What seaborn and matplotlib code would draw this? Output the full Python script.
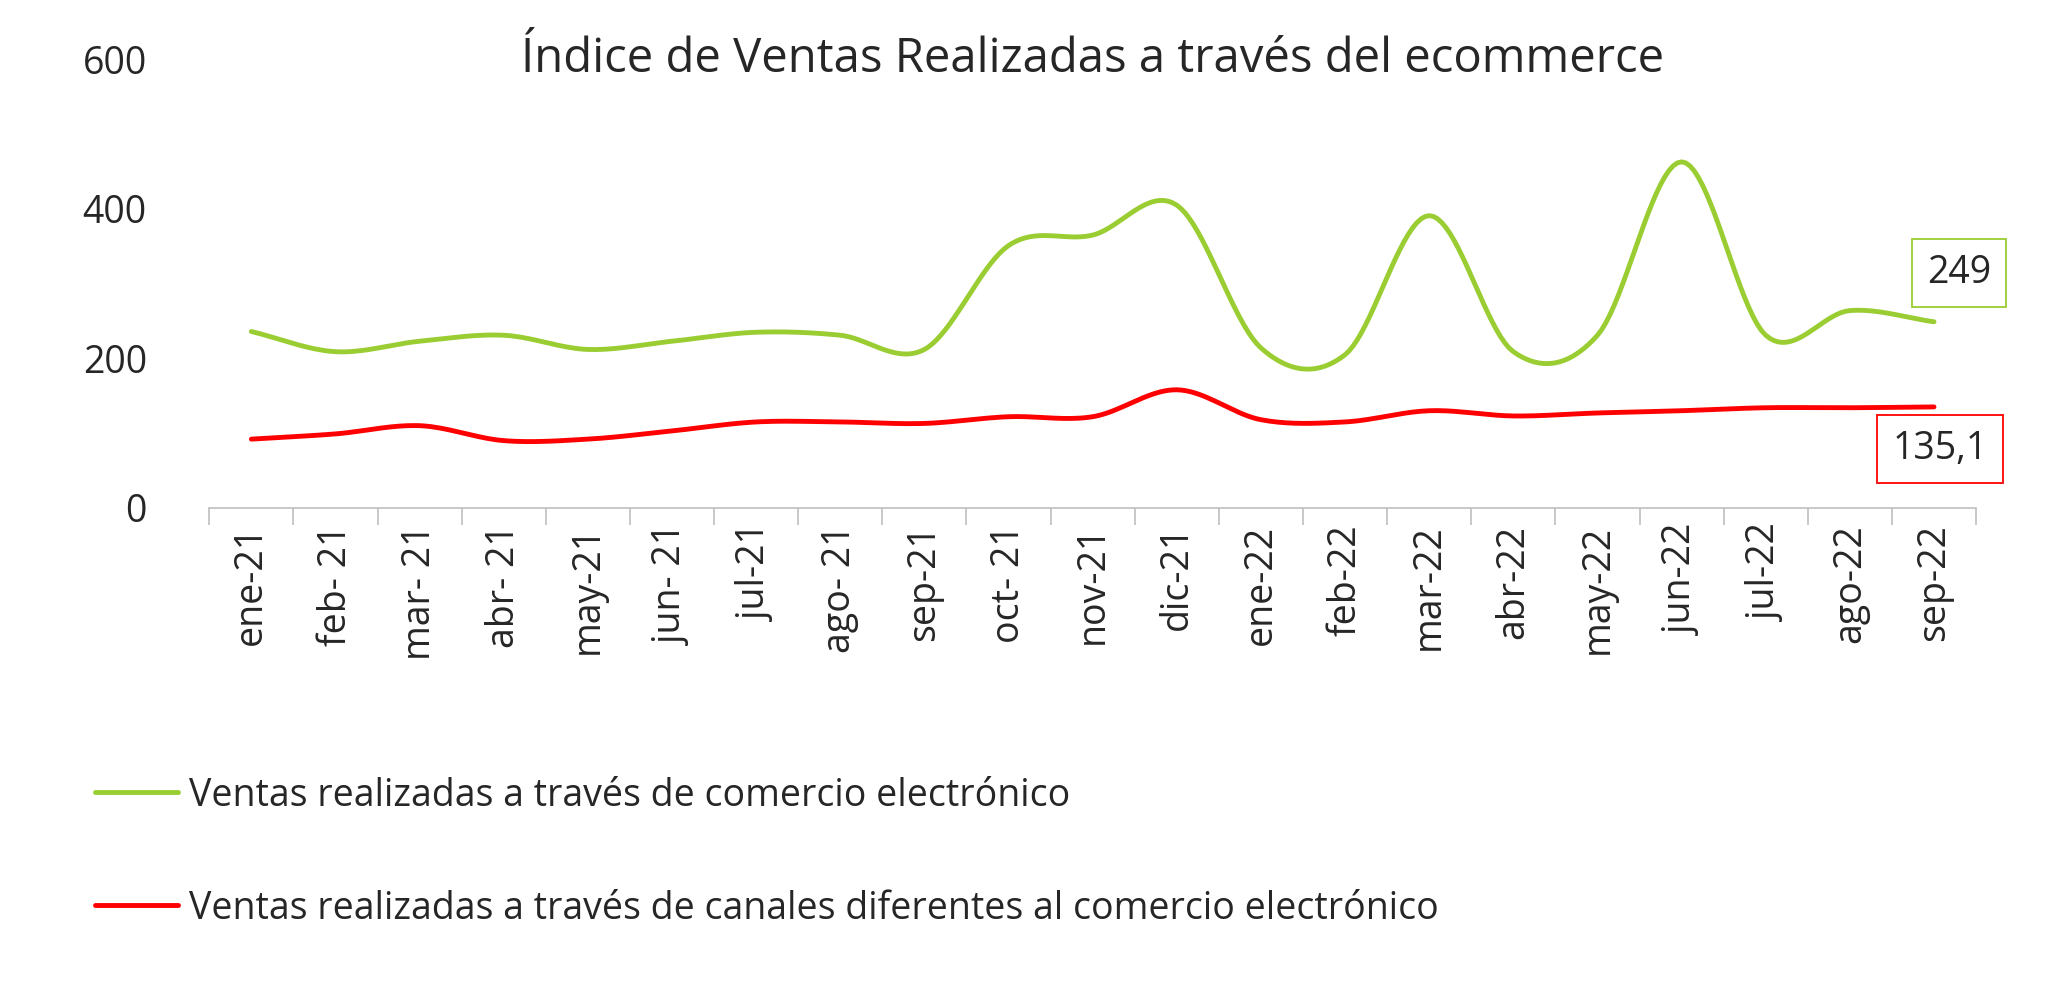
import matplotlib
matplotlib.use("Agg")
import matplotlib.pyplot as plt
import numpy as np
import pandas as pd
import seaborn as sns

months = ["ene-21", "feb- 21", "mar- 21", "abr- 21", "may-21", "jun- 21", "jul-21",
          "ago- 21", "sep-21", "oct- 21", "nov-21", "dic-21", "ene-22", "feb-22",
          "mar-22", "abr-22", "may-22", "jun-22", "jul-22", "ago-22", "sep-22"]
ecommerce = [236, 209, 223, 231, 212, 223, 235, 231, 212, 351, 365, 405, 214, 205,
             391, 209, 231, 463, 231, 264, 249]
other = [92, 99, 110, 90, 92, 103, 115, 115, 113, 122, 122, 158, 118, 115,
         130, 123, 127, 130, 134, 134, 135.1]

GREEN = "#9ACD32"
RED = "#FF0000"


def smooth(y, n=20):
    # Catmull-Rom through the data points
    y = np.asarray(y, float)
    p = np.concatenate([[2 * y[0] - y[1]], y, [2 * y[-1] - y[-2]]])
    xs, ys = [], []
    t = np.linspace(0, 1, n, endpoint=False)
    for i in range(len(y) - 1):
        p0, p1, p2, p3 = p[i], p[i + 1], p[i + 2], p[i + 3]
        seg = 0.5 * (2 * p1 + (-p0 + p2) * t + (2 * p0 - 5 * p1 + 4 * p2 - p3) * t**2
                     + (-p0 + 3 * p1 - 3 * p2 + p3) * t**3)
        xs.extend(i + t)
        ys.extend(seg)
    xs.append(len(y) - 1)
    ys.append(y[-1])
    return np.array(xs), np.array(ys)


sns.set_style("white")
plt.rcParams["font.family"] = ["Open Sans", "DejaVu Sans"]

fig = plt.figure(figsize=(20.52, 9.91), dpi=100)
ax = fig.add_axes([0.102, 0.4875, 0.861, 0.4525])

rows = []
for name, vals in [("Ventas realizadas a través de comercio electrónico", ecommerce),
                   ("Ventas realizadas a través de canales diferentes al comercio electrónico", other)]:
    xs, ys = smooth(vals)
    rows.append(pd.DataFrame({"x": xs, "y": ys, "serie": name}))
df = pd.concat(rows)

sns.lineplot(data=df, x="x", y="y", hue="serie", palette=[GREEN, RED],
             linewidth=3.5, ax=ax, sort=False)

ax.set_xlim(-0.45, len(months) - 0.55)
ax.set_ylim(0, 600)
ax.set_yticks([0, 200, 400, 600])
ax.set_xticks(range(len(months)))
ax.set_xticklabels(months, rotation=90, fontsize=27)
ax.tick_params(axis="y", labelsize=27, length=0, pad=45)
ax.set_xticks(np.arange(-0.5, len(months)), minor=True)
ax.tick_params(axis="x", which="major", length=0, pad=12)
ax.tick_params(axis="x", which="minor", bottom=True, length=12, color="#BFBFBF", width=1.2)
ax.set_xlabel("")
ax.set_ylabel("")
for s in ["left", "right", "top"]:
    ax.spines[s].set_visible(False)
ax.spines["bottom"].set_color("#BFBFBF")
ax.spines["bottom"].set_linewidth(1.2)

ax.text(0.5, 1.0, "Índice de Ventas Realizadas a través del ecommerce",
        transform=ax.transAxes, ha="center", va="center", fontsize=34)

ax.annotate(f"{ecommerce[-1]:g}", (len(months) - 1, ecommerce[-1]), xytext=(-5, 35),
            textcoords="offset points", fontsize=27, va="center",
            bbox=dict(boxstyle="square,pad=0.4", fc="white", ec=GREEN, lw=1.3))
ax.annotate(f"{other[-1]:g}".replace(".", ","), (len(months) - 1, other[-1]),
            xytext=(-30, -30), textcoords="offset points", fontsize=27, va="center",
            bbox=dict(boxstyle="square,pad=0.4", fc="white", ec=RED, lw=1.3))

handles, labels = ax.get_legend_handles_labels()
ax.legend_.remove()
fig.legend(handles, labels, loc="lower left", bbox_to_anchor=(0.03, 0.03),
           frameon=False, fontsize=27, labelspacing=2.0, handlelength=2.2,
           handletextpad=0.3)

fig.savefig("out.png", dpi=100)
